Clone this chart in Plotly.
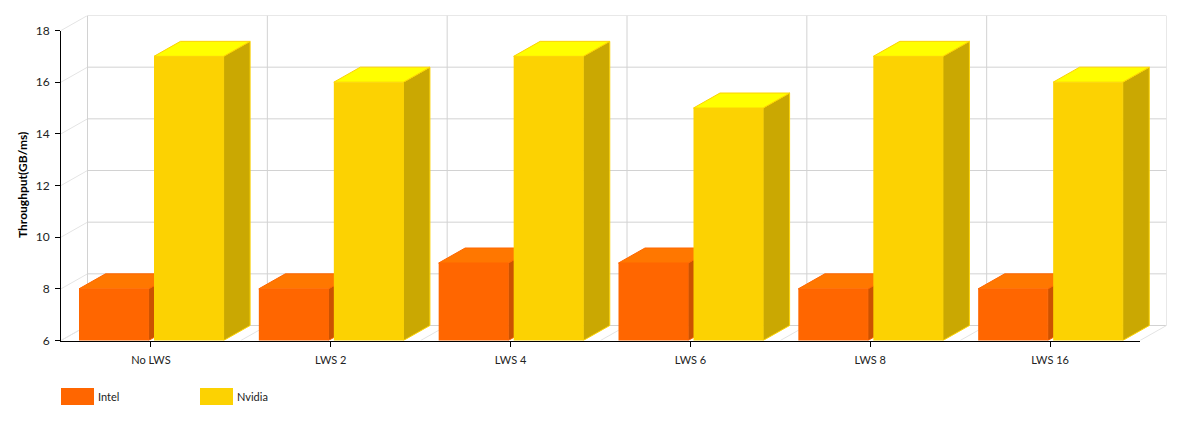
import plotly.graph_objects as go

# Data
categories = ["No LWS", "LWS 2", "LWS 4", "LWS 6", "LWS 8", "LWS 16"]
intel = [8, 8, 9, 9, 8, 8]
nvidia = [17, 16, 17, 15, 17, 16]
y_ticks = [6, 8, 10, 12, 14, 16, 18]

# the page body has an 8px margin, so the figure itself is smaller than the window
W, H = 1168, 408
# front plane in figure pixels, the back wall sits DEPTH_PX right and up of it
LEFT, RIGHT, TOP, BOTTOM = 53, 1132, 22.5, 332.5
DEPTH_PX_X, DEPTH_PX_Y = 26.5, 15

n_cat = len(categories)
x_unit = (RIGHT - LEFT) / n_cat
y_unit = (BOTTOM - TOP) / (y_ticks[-1] - y_ticks[0])
DEPTH_X = DEPTH_PX_X / x_unit
DEPTH_Y = DEPTH_PX_Y / y_unit
x_max = n_cat + DEPTH_X
y_min = y_ticks[0]
y_max = y_ticks[-1] + DEPTH_Y

BAR_W = 69.6 / x_unit
INTEL_LEFT = 18 / x_unit
NVIDIA_LEFT = 93 / x_unit

GRID = "#d2d2d2"
GRID_SIDE = "#e4e4e4"
TEXT = "#222222"


def box_traces(values, left, top_color, side_color, edge_color, axes):
    # top and side faces of each bar, worked out from the value
    traces = []
    for i, v in enumerate(values):
        x0 = i + left
        x1 = x0 + BAR_W
        side = go.Scatter(
            x=[x1, x1 + DEPTH_X, x1 + DEPTH_X, x1, x1],
            y=[y_min, y_min + DEPTH_Y, v + DEPTH_Y, v, y_min],
            fill="toself", fillcolor=side_color, mode="lines",
            line=dict(color=edge_color, width=1),
            hoverinfo="skip", showlegend=False, xaxis=axes[0], yaxis=axes[1],
        )
        top = go.Scatter(
            x=[x0, x0 + DEPTH_X, x1 + DEPTH_X, x1, x0],
            y=[v, v + DEPTH_Y, v + DEPTH_Y, v, v],
            fill="toself", fillcolor=top_color, mode="lines",
            line=dict(color=edge_color, width=1),
            hoverinfo="skip", showlegend=False, xaxis=axes[0], yaxis=axes[1],
        )
        traces += [side, top]
    return traces


fig = go.Figure()

# Intel goes on the back axes, Nvidia on the ones above so it hides Intel's depth
fig.add_trace(go.Bar(
    name="Intel", x=[i + INTEL_LEFT + BAR_W / 2 for i in range(n_cat)], y=intel,
    width=BAR_W, marker=dict(color="#FF6600", line=dict(width=0)),
    showlegend=False, hovertext=categories, xaxis="x", yaxis="y",
))
fig.add_traces(box_traces(intel, INTEL_LEFT, "#FF7700", "#CC5200", "#FF6600", ("x", "y")))
fig.add_trace(go.Bar(
    name="Nvidia", x=[i + NVIDIA_LEFT + BAR_W / 2 for i in range(n_cat)], y=nvidia,
    width=BAR_W, marker=dict(color="#FCD202", line=dict(width=0)),
    showlegend=False, hovertext=categories, xaxis="x2", yaxis="y2",
))
fig.add_traces(box_traces(nvidia, NVIDIA_LEFT, "#FFFF00", "#CAA802", "#FCD202", ("x2", "y2")))
# empty trace so the front axes exist
fig.add_trace(go.Scatter(x=[], y=[], xaxis="x3", yaxis="y3", showlegend=False))

# back wall, floor and side wall
shapes = []
for v in y_ticks:
    shapes.append(dict(type="line", x0=DEPTH_X, x1=x_max, y0=v + DEPTH_Y, y1=v + DEPTH_Y,
                       line=dict(color=GRID, width=1), layer="below", xref="x", yref="y"))
    shapes.append(dict(type="line", x0=0, x1=DEPTH_X, y0=v, y1=v + DEPTH_Y,
                       line=dict(color=GRID_SIDE, width=1), layer="below", xref="x", yref="y"))
for i in range(n_cat + 1):
    shapes.append(dict(type="line", x0=i + DEPTH_X, x1=i + DEPTH_X, y0=y_min + DEPTH_Y, y1=y_max,
                       line=dict(color=GRID, width=1), layer="below", xref="x", yref="y"))
    shapes.append(dict(type="line", x0=i, x1=i + DEPTH_X, y0=y_min, y1=y_min + DEPTH_Y,
                       line=dict(color=GRID_SIDE, width=1), layer="below", xref="x", yref="y"))

# legend swatches
legend_items = [("Intel", "#FF6600", 53), ("Nvidia", "#FCD202", 192)]
annotations = []
for name, color, px in legend_items:
    shapes.append(dict(type="rect", xref="paper", yref="paper",
                       x0=px / W, x1=(px + 33) / W, y0=1 - 397 / H, y1=1 - 380 / H,
                       fillcolor=color, line=dict(width=0)))
    annotations.append(dict(text=name, xref="paper", yref="paper", x=(px + 35) / W,
                            y=1 - 388.5 / H, xanchor="left", yanchor="middle", showarrow=False,
                            font=dict(family="Lato", size=11, color=TEXT)))

# y axis title
annotations.append(dict(text="Throughput(GB/ms)", xref="paper", yref="paper", x=14.5 / W,
                        y=1 - 177.5 / H, textangle=-90, showarrow=False, xanchor="center", yanchor="middle",
                        font=dict(family="Lato", size=12, color="#000000", weight="bold")))

full_x = [LEFT / W, (RIGHT + DEPTH_PX_X) / W]
full_y = [1 - BOTTOM / H, 1 - (TOP - DEPTH_PX_Y) / H]
hidden = dict(visible=False, fixedrange=True)

fig.update_layout(
    width=W, height=H, autosize=False,
    margin=dict(l=0, r=0, t=0, b=0),
    paper_bgcolor="white", plot_bgcolor="rgba(0,0,0,0)",
    font=dict(family="Lato", size=11, color=TEXT),
    barmode="overlay", showlegend=False,
    shapes=shapes, annotations=annotations,
    xaxis=dict(domain=full_x, range=[0, x_max], anchor="y", **hidden),
    yaxis=dict(domain=full_y, range=[y_min, y_max], anchor="x", **hidden),
    xaxis2=dict(domain=full_x, range=[0, x_max], anchor="y2", **hidden),
    yaxis2=dict(domain=full_y, range=[y_min, y_max], anchor="x2", **hidden),
    xaxis3=dict(
        domain=[LEFT / W, RIGHT / W], range=[0, n_cat], anchor="y3",
        tickvals=[i + 0.5 for i in range(n_cat)], ticktext=categories,
        ticks="outside", ticklen=5, tickcolor="#000000", showgrid=False, zeroline=False,
        showline=True, linecolor="#000000", linewidth=1, ticklabelstandoff=4,
        tickfont=dict(family="Lato", size=11, color=TEXT), automargin=False,
    ),
    yaxis3=dict(
        domain=[1 - BOTTOM / H, 1 - TOP / H], range=[y_ticks[0], y_ticks[-1]], anchor="x3",
        tickvals=y_ticks, ticks="outside", ticklen=5, tickcolor="#000000",
        showgrid=False, zeroline=False, showline=True, linecolor="#000000", linewidth=1,
        ticklabelstandoff=3, tickfont=dict(family="Lato", size=12, color=TEXT), automargin=False,
    ),
)

fig.write_html("out.html")
